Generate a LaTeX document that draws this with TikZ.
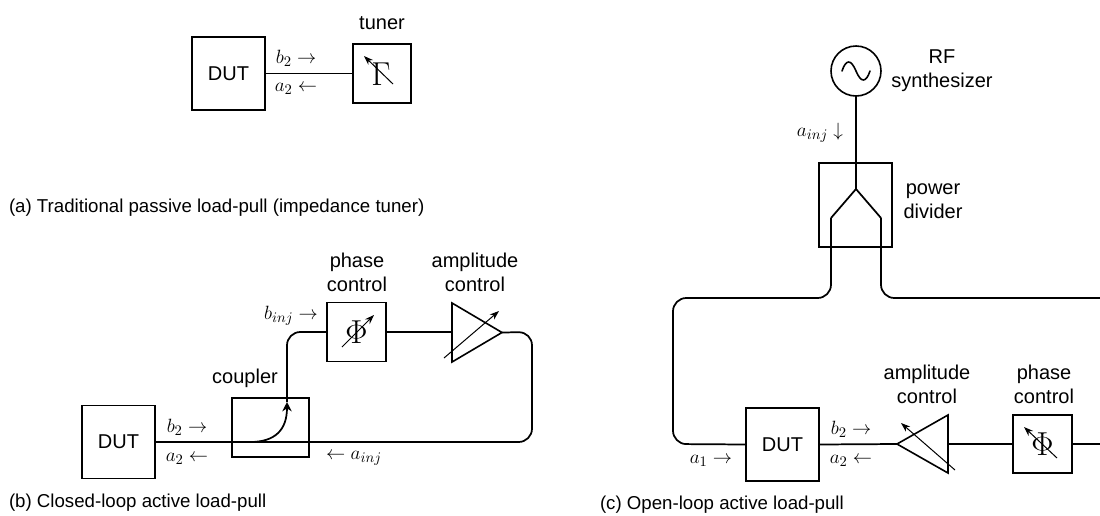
\documentclass[tikz,border=0pt]{standalone}
\usepackage[no-math]{fontspec}
\setmainfont{Liberation Sans}
\usetikzlibrary{arrows.meta}
\begin{document}
\begin{tikzpicture}[x=0.75pt,y=-0.75pt,
  every node/.style={inner sep=0pt,outer sep=0pt},
  lbl/.style={font=\fontsize{15}{18}\selectfont,align=center},
  mathlbl/.style={font=\fontsize{15.4}{18}\selectfont},
  captext/.style={font=\fontsize{14}{16}\selectfont,anchor=west},
  sym/.style={font=\fontsize{24}{26}\selectfont},
  box/.style={draw,line width=1.2pt,fill=white},
  wire/.style={line width=1.3pt,rounded corners=10pt},
  tune/.style={line width=0.75pt,-{Stealth[length=7pt,width=5pt]}}]
\useasboundingbox (0,0) rectangle (1100,515);
\fill[white] (0,0) rectangle (1100,515);

% (a)
\node[lbl] (tunerlabel) at (382,23) {tuner};
\node[box,minimum width=54.75pt,minimum height=54.75pt,lbl] (dutA) at (228.5,73.5) {DUT};
\node[box,minimum width=43.5pt,minimum height=44.25pt] (tunerA) at (382,73.5) {};
\node[sym] (gamma) at (381,74) {$\Gamma$};
\draw[wire] (dutA.east) -- (tunerA.west);
\coordinate (ga1) at (393,84); \coordinate (ga2) at (364,56);
\draw[tune] (ga1) -- (ga2);
\node[mathlbl] (ab2) at (296,58) {$b_2\rightarrow$};
\node[mathlbl] (aa2) at (296,89) {$a_2\leftarrow$};
\node[captext] (capa) at (9,208) {(a) Traditional passive load-pull (impedance tuner)};

% (b)
\node[box,minimum width=54.75pt,minimum height=54.75pt,lbl] (dutB) at (118.5,442) {DUT};
\node[box,fill=none,minimum width=57.75pt,minimum height=44.25pt] (coupler) at (270.5,427.5) {};
\node[box,minimum width=44.25pt,minimum height=44.25pt] (phaseB) at (356.5,332) {};
\node[sym] (phiB) at (356.5,332) {$\Phi$};
\coordinate (ampBa) at (452,303); \coordinate (ampBb) at (452,362); \coordinate (ampBt) at (502,332.5);
\coordinate (ampBm) at (452,332);
\draw[line width=1.2pt,line join=miter] (ampBa) -- (ampBt) -- (ampBb) -- cycle;
\coordinate (bc1) at (532,332); \coordinate (bc2) at (532,442);
\coordinate (bc3) at (287,332); \coordinate (bc4) at (287,402); \coordinate (bc5) at (250,442);
\draw[wire] (phaseB.east) -- (ampBm);
\draw[wire] (ampBt) -- (bc1) -- (bc2) -- (dutB.east);
\draw[wire] (phaseB.west) -- (bc3) -- (bc4);
\draw[line width=1.3pt,-{Stealth[length=7pt,width=7pt]}] (bc5) .. controls (275,442) and (287,430) .. (bc4);
\coordinate (pb1) at (342,347); \coordinate (pb2) at (374,315);
\draw[tune] (pb1) -- (pb2);
\coordinate (ab1) at (444,358); \coordinate (ab2c) at (499,311);
\draw[tune] (ab1) -- (ab2c);
\node[mathlbl] (bb2) at (187,427) {$b_2\rightarrow$};
\node[mathlbl] (ba2) at (187,459) {$a_2\leftarrow$};
\node[mathlbl] (bbinj) at (291,316) {$b_{inj}\rightarrow$};
\node[mathlbl] (bainj) at (354,458) {$\leftarrow a_{inj}$};
\node[lbl] (couplerlabel) at (245,378) {coupler};
\node[lbl] (phaselabelB) at (357,272) {phase\\control};
\node[lbl] (amplabelB) at (475,272) {amplitude\\control};
\node[captext] (capb) at (9,503) {(b) Closed-loop active load-pull};

% (c)
\node[draw,circle,line width=1.2pt,minimum size=37.5pt] (synth) at (856,71) {};
\draw[line width=1.2pt,line cap=round] (842,71) .. controls (846,59) and (851,59) .. (856,71) .. controls (861,83) and (866,83) .. (870,71);
\node[box,fill=none,minimum width=54.75pt,minimum height=63pt] (divider) at (855.5,205) {};
\coordinate (split) at (856,189);
\coordinate (dl1) at (831,218); \coordinate (dl2) at (831,298); \coordinate (dl3) at (673,298); \coordinate (dl4) at (673,444);
\coordinate (dr1) at (881,218); \coordinate (dr2) at (881,298); \coordinate (dr3) at (1100,298);
\coordinate (tick1) at (881,257); \coordinate (tick2) at (881,261);
\node[box,minimum width=54.75pt,minimum height=54.75pt,lbl] (dutC) at (782.5,444.5) {DUT};
\coordinate (ampCa) at (948,415); \coordinate (ampCb) at (948,473); \coordinate (ampCt) at (897,444);
\coordinate (ampCm) at (948,444);
\node[box,minimum width=44.25pt,minimum height=43.5pt] (phaseC) at (1042.5,444) {};
\node[sym] (phiC) at (1042.5,444) {$\Phi$};
\coordinate (rightC) at (1100,444);
\draw[wire] (synth.south) -- (split);
\draw[line width=1.3pt,line join=miter] (dl1) -- (split) -- (dr1);
\draw[wire] (dl1) -- (dl2) -- (dl3) -- (dl4) -- (dutC.west);
\draw[wire] (dr1) -- (dr2) -- (dr3);
\draw[line width=1.8pt] (tick1) -- (tick2);
\draw[line width=1.2pt,line join=miter] (ampCa) -- (ampCt) -- (ampCb) -- cycle;
\draw[wire] (dutC.east) -- (ampCt);
\draw[wire] (ampCm) -- (phaseC.west);
\draw[wire] (phaseC.east) -- (rightC);
\coordinate (ac1) at (955,470); \coordinate (ac2) at (901,423);
\draw[tune] (ac1) -- (ac2);
\coordinate (pc1) at (1057,458); \coordinate (pc2) at (1024,427);
\draw[tune] (pc1) -- (pc2);
\node[lbl] (rflabel) at (942,70.5) {RF\\synthesizer};
\node[mathlbl] (ainjC) at (820,133) {$a_{inj}\downarrow$};
\node[lbl] (dividerlabel) at (933,201.5) {power\\divider};
\node[mathlbl] (ca1) at (711,461) {$a_1\rightarrow$};
\node[mathlbl] (cb2) at (851,429) {$b_2\rightarrow$};
\node[mathlbl] (ca2) at (851,461) {$a_2\leftarrow$};
\node[lbl] (amplabelC) at (927,384) {amplitude\\control};
\node[lbl] (phaselabelC) at (1044,384) {phase\\control};
\node[captext] (capc) at (600,505) {(c) Open-loop active load-pull};
\end{tikzpicture}
\end{document}
